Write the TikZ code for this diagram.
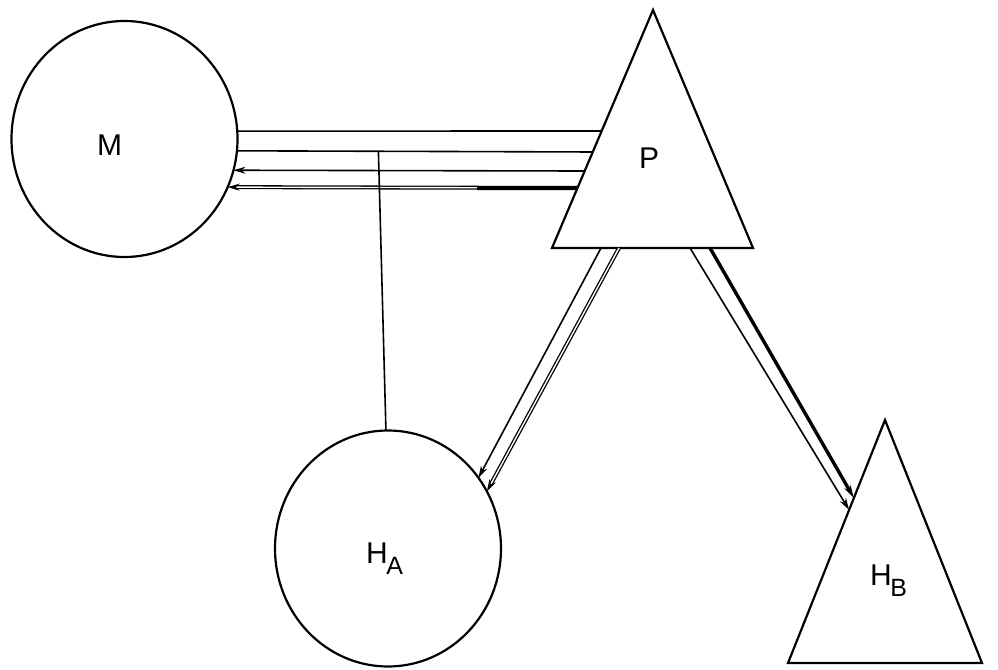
\documentclass[tikz,border=0pt]{standalone}
\usepackage{fontspec}
\setmainfont{Liberation Sans}
\usetikzlibrary{shapes.geometric,arrows.meta,calc}
\tikzset{
  shapeline/.style={line width=2.2pt},
  ellnode/.style={draw, shapeline, ellipse, inner sep=0pt, outer sep=0pt, minimum width=226pt, minimum height=236pt},
  lbl/.style={inner sep=0pt, anchor=base west, font=\fontsize{30}{32}\selectfont},
  conn/.style={line width=1.6pt},
  tip/.style={-{Stealth[length=12pt,width=7pt]}},
  dbl/.style={line width=1.3pt, double, double distance=1.4pt},
  thickconn/.style={line width=4pt}
}
\newcommand{\sublbl}[2]{#1\kern-1.5pt\raisebox{-11pt}{\fontsize{25}{27}\selectfont #2}}
\begin{document}
\begin{tikzpicture}[x=1pt,y=-1pt]
\useasboundingbox (0,0) rectangle (998,669);
% circles
\node[ellnode] (M) at (124.5,139) {};
\node[ellnode] (HA) at (388,548.5) {};
% triangle P
\coordinate (PA) at (653,10);
\coordinate (PL) at (552,248);
\coordinate (PR) at (753,248);
\draw[shapeline, line join=miter] (PA) -- (PL) -- (PR) -- cycle;
% triangle HB
\coordinate (HBA) at (885,420);
\coordinate (HBL) at (788,663);
\coordinate (HBR) at (982,663);
\draw[shapeline, line join=miter] (HBA) -- (HBL) -- (HBR) -- cycle;
% labels
\node[lbl] (Mlbl) at (97,155) {M};
\node[lbl] (Plbl) at (639,168) {P};
\node[lbl] (HAlbl) at (366,563) {\sublbl{H}{A}};
\node[lbl] (HBlbl) at (870,585) {\sublbl{H}{B}};
% connection points on P left side
\coordinate (p1) at ($(PL)!0.4916!(PA)$);
\coordinate (p2) at ($(PL)!0.4034!(PA)$);
\coordinate (p3) at ($(PL)!0.3235!(PA)$);
\coordinate (p4) at ($(PL)!0.2521!(PA)$);
% lines M -- P
\draw[conn] (M.4.08) -- (p1);
\draw[conn] (M.-6.63) -- (p2);
\draw[conn, tip] (p3) -- (M.-16.46);
\draw[dbl, tip] (p4) -- (M.-25.6);
\coordinate (q4) at (477,188);
\draw[thickconn] (q4) -- (p4);
% vertical line to HA
\coordinate (v) at ($(M.-6.63)!0.3976!(p2)$);
\draw[conn] (v) -- (HA.91.5);
% P -> HA
\coordinate (pa1) at ($(PL)!0.2438!(PR)$);
\coordinate (pa2) at ($(PL)!0.3333!(PR)$);
\draw[conn, tip] (pa1) -- (HA.38);
\draw[dbl, tip] (pa2) -- (HA.30);
% P -> HB
\coordinate (pb1) at ($(PL)!0.6866!(PR)$);
\coordinate (pb2) at ($(PL)!0.7861!(PR)$);
\coordinate (hb1) at ($(HBL)!0.63!(HBA)$);
\coordinate (hb2) at ($(HBL)!0.679!(HBA)$);
\draw[conn, tip] (pb1) -- (hb1);
\draw[line width=3.4pt, -{Stealth[length=13pt,width=7pt]}] (pb2) -- (hb2);
\end{tikzpicture}
\end{document}
